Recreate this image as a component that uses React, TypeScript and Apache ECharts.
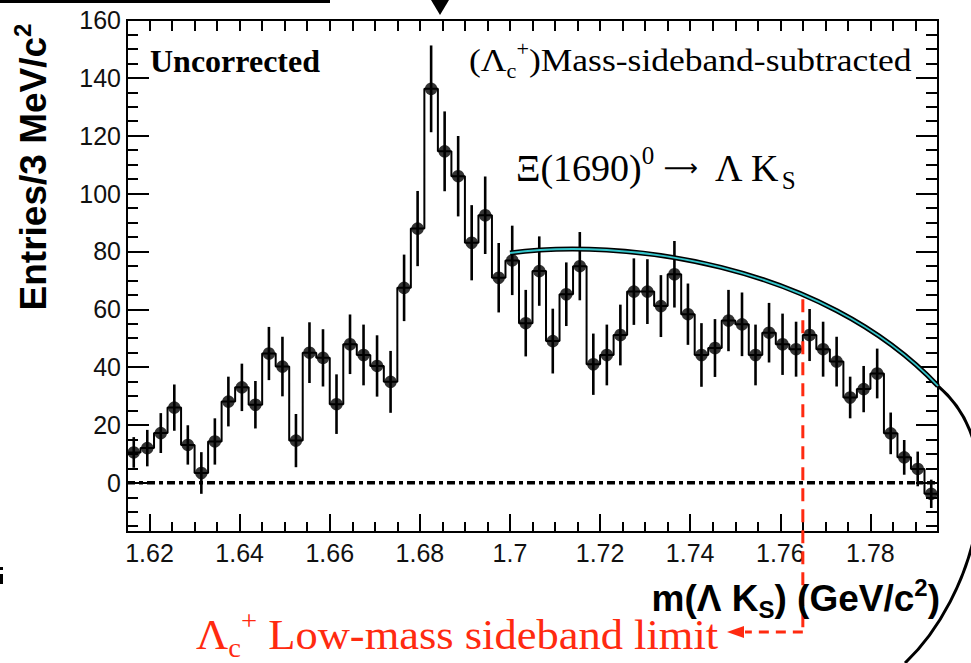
import React, { useEffect, useRef } from "react";
import * as echarts from "echarts";

// ---- data ----
const BIN_LOW = 1.615;
const BIN_WIDTH = 0.003;
const X_MIN = 1.615;
const X_MAX = 1.795;
const Y_MIN = -17;
const Y_MAX = 160;

const counts = [
  10.5, 12, 17.2, 26, 13.1, 3.4, 14.3, 28.1, 33, 27,
  44.7, 40.2, 14.6, 45, 43.2, 27.2, 47.9, 44.2, 40.4, 34.9,
  67.4, 87.9, 136.2, 114.6, 106, 83, 92.5, 70.9, 76.9, 55.2,
  73.2, 49, 65.2, 74.9, 41, 44.2, 51.1, 66.1, 66.1, 61.1,
  72.1, 58.3, 44.2, 46.6, 56.1, 54.8, 44.2, 51.9, 47.9, 46.2,
  51.1, 46.2, 41.9, 29.5, 32.4, 37.8, 17.1, 8.8, 4.8, -3.8,
];
const errors = [
  5.3, 6.3, 6.9, 8, 6.8, 7.2, 8, 8.6, 8.2, 8.2,
  9.2, 10.3, 9.2, 10.5, 9.9, 10.3, 10.3, 10.5, 10.6, 10.7,
  11.5, 13, 15, 13.8, 13.9, 13, 13.4, 12, 12, 11.5,
  12, 11.2, 11, 11.8, 10.6, 10.5, 10.5, 11.5, 11.2, 10.7,
  11.5, 10.6, 11, 10, 10.6, 11, 10.5, 10.3, 10.6, 9.5,
  9, 9.5, 8.6, 7.2, 8, 8.6, 7.2, 6, 6, 4.9,
];
const xMajorTicks = [1.62, 1.64, 1.66, 1.68, 1.7, 1.72, 1.74, 1.76, 1.78];
const xMinorTicks = [
  1.625, 1.63, 1.635, 1.645, 1.65, 1.655, 1.665, 1.67, 1.675, 1.685, 1.69, 1.695,
  1.705, 1.71, 1.715, 1.725, 1.73, 1.735, 1.745, 1.75, 1.755, 1.765, 1.77, 1.775,
  1.785, 1.79,
];
const yMajorTicks = [0, 20, 40, 60, 80, 100, 120, 140, 160];
const yMinorTicks = [
  -15, -10, -5, 5, 10, 15, 25, 30, 35, 45, 50, 55, 65, 70, 75, 85, 90, 95,
  105, 110, 115, 125, 130, 135, 145, 150, 155,
];
const zeroLine = [
  [X_MIN, 0],
  [X_MAX, 0],
];
const sidebandLimit = 1.765;
const sidebandLineTop = 63.5;

const SERIF = '"Liberation Serif", "Times New Roman", Times, serif';
const SANS = '"Liberation Sans", Arial, Helvetica, sans-serif';
const RED = "#ff2a10";

echarts.graphic.registerShape(
  "ellipseTop",
  echarts.graphic.extendPath("M510 253 C620 238 820 262 938 386", {})
);
echarts.graphic.registerShape(
  "ellipseRight",
  echarts.graphic.extendPath("M938 386 C1016 452 974 598 905 663", {})
);

function fmtX(v: number) {
  return String(parseFloat(Number(v).toFixed(3)));
}

export default function App() {
  const ref = useRef<HTMLDivElement>(null);

  useEffect(() => {
    const chart = echarts.init(ref.current!, null, { renderer: "svg" });

    const stepData: number[][] = [];
    counts.forEach((v, i) => {
      stepData.push([BIN_LOW + BIN_WIDTH * i, v]);
      stepData.push([BIN_LOW + BIN_WIDTH * (i + 1), v]);
    });
    const centers = counts.map((_, i) => BIN_LOW + BIN_WIDTH * (i + 0.5));
    const pointData = counts.map((v, i) => [centers[i], v]);
    const errData = counts.map((v, i) => [centers[i], v - errors[i], v + errors[i]]);

    const tickStyle = { color: "#000", width: 2 };
    const baseX = {
      type: "value" as const,
      min: X_MIN,
      max: X_MAX,
      gridIndex: 0,
      axisLine: { show: false, onZero: false },
      splitLine: { show: false },
    };
    const baseY = {
      type: "value" as const,
      min: Y_MIN,
      max: Y_MAX,
      gridIndex: 0,
      axisLine: { show: false, onZero: false },
      splitLine: { show: false },
    };

    const option: any = {
      animation: false,
      backgroundColor: "#fff",
      grid: {
        left: 127,
        top: 20,
        right: 33,
        bottom: 131,
        show: true,
        borderColor: "#000",
        borderWidth: 2,
        backgroundColor: "transparent",
      },
      xAxis: [
        {
          ...baseX,
          position: "bottom",
          axisTick: { customValues: xMajorTicks, inside: true, length: 18, lineStyle: tickStyle },
          axisLabel: {
            customValues: xMajorTicks,
            formatter: fmtX,
            fontFamily: SANS,
            fontSize: 25,
            color: "#111",
            margin: 8,
          },
        },
        {
          ...baseX,
          position: "bottom",
          axisTick: { customValues: xMinorTicks, inside: true, length: 10, lineStyle: tickStyle },
          axisLabel: { show: false },
        },
        {
          ...baseX,
          position: "top",
          axisTick: {
            customValues: [...xMajorTicks, ...xMinorTicks],
            inside: true,
            length: 11,
            lineStyle: tickStyle,
          },
          axisLabel: { show: false },
        },
      ],
      yAxis: [
        {
          ...baseY,
          position: "left",
          axisTick: { customValues: yMajorTicks, inside: true, length: 22, lineStyle: tickStyle },
          axisLabel: {
            customValues: yMajorTicks,
            fontFamily: SANS,
            fontSize: 25,
            color: "#111",
            margin: 6,
          },
        },
        {
          ...baseY,
          position: "left",
          axisTick: { customValues: yMinorTicks, inside: true, length: 11, lineStyle: tickStyle },
          axisLabel: { show: false },
        },
        {
          ...baseY,
          position: "right",
          axisTick: { customValues: yMajorTicks, inside: true, length: 22, lineStyle: tickStyle },
          axisLabel: { show: false },
        },
        {
          ...baseY,
          position: "right",
          axisTick: { customValues: yMinorTicks, inside: true, length: 12, lineStyle: tickStyle },
          axisLabel: { show: false },
        },
      ],
      series: [
        {
          type: "line",
          name: "zero",
          xAxisIndex: 0,
          yAxisIndex: 0,
          data: zeroLine,
          symbol: "none",
          showSymbol: false,
          silent: true,
          lineStyle: { color: "#000", width: 3.5, type: [8, 4, 4, 4] },
          z: 2,
        },
        {
          type: "line",
          name: "histogram",
          xAxisIndex: 0,
          yAxisIndex: 0,
          data: stepData,
          showSymbol: false,
          symbol: "none",
          lineStyle: { color: "#000", width: 2 },
          silent: true,
          z: 3,
        },
        {
          type: "custom",
          name: "errors",
          xAxisIndex: 0,
          yAxisIndex: 0,
          data: errData,
          encode: { x: 0, y: [1, 2] },
          z: 4,
          renderItem: (params: any, api: any) => {
            const x = api.value(0);
            const p1 = api.coord([x, api.value(1)]);
            const p2 = api.coord([x, api.value(2)]);
            return {
              type: "line",
              shape: { x1: p1[0], y1: p1[1], x2: p2[0], y2: p2[1] },
              style: { stroke: "#000", lineWidth: 2.6 },
            };
          },
        },
        {
          type: "scatter",
          name: "points",
          xAxisIndex: 0,
          yAxisIndex: 0,
          data: pointData,
          symbol: "circle",
          symbolSize: 12.5,
          itemStyle: { color: "#000" },
          z: 5,
        },
      ],
    };

    chart.setOption(option);

    const pt = chart.convertToPixel({ seriesIndex: 1 }, [sidebandLimit, sidebandLineTop]) as number[];
    const rx = pt[0];
    const ry = pt[1];

    const txt = (extra: any) => ({ type: "text", z: 20, ...extra });

    chart.setOption({
      graphic: [
        { type: "rect", shape: { x: 0, y: 0, width: 330, height: 3 }, style: { fill: "#000" } },
        { type: "polygon", shape: { points: [[431, 0], [449, 0], [440, 15]] }, style: { fill: "#000" } },
        { type: "rect", shape: { x: 0, y: 574, width: 3, height: 10 }, style: { fill: "#000" } },
        { type: "rect", shape: { x: 0, y: 567, width: 3, height: 3 }, style: { fill: "#000" } },
        { type: "ellipseTop", z: 15, style: { stroke: "#000", lineWidth: 5, fill: null } },
        { type: "ellipseTop", z: 16, style: { stroke: "#35c6cc", lineWidth: 1.8, fill: null } },
        { type: "ellipseRight", z: 15, style: { stroke: "#000", lineWidth: 3, fill: null } },
        txt({
          x: 150,
          y: 61,
          style: {
            text: "Uncorrected",
            font: `bold 32px ${SERIF}`,
            fill: "#000",
            textAlign: "left",
            align: "left",
            textVerticalAlign: "middle",
            verticalAlign: "middle",
          },
        }),
        txt({
          x: 469,
          y: 60,
          scaleX: 1.11,
          style: {
            text: "{n|(Λ}{sub|c}{sup|+}{n|)Mass-sideband-subtracted}",
            fill: "#000",
            textAlign: "left",
            align: "left",
            textVerticalAlign: "middle",
            verticalAlign: "middle",
            rich: {
              n: { fontFamily: SERIF, fontSize: 32, lineHeight: 42, fill: "#000" },
              sub: { fontFamily: SERIF, fontSize: 20, lineHeight: 21, verticalAlign: "bottom", fill: "#000" },
              sup: { fontFamily: SERIF, fontSize: 20, lineHeight: 27, verticalAlign: "top", fill: "#000" },
            },
          },
        }),
        txt({
          x: 516,
          y: 168,
          style: {
            text: "{n|Ξ(1690)}{sup|0}{n| }{arr|⟶}{n|  Λ K}{sub|S}",
            fill: "#000",
            textAlign: "left",
            align: "left",
            textVerticalAlign: "middle",
            verticalAlign: "middle",
            rich: {
              n: { fontFamily: SERIF, fontSize: 38, lineHeight: 50, fill: "#000" },
              arr: { fontFamily: '"DejaVu Sans", sans-serif', fontSize: 24, lineHeight: 50, fill: "#000" },
              sub: { fontFamily: SERIF, fontSize: 25, lineHeight: 26, verticalAlign: "bottom", fill: "#000" },
              sup: { fontFamily: SERIF, fontSize: 25, lineHeight: 32, verticalAlign: "top", fill: "#000" },
            },
          },
        }),
        txt({
          x: 33,
          y: 167,
          rotation: Math.PI / 2,
          style: {
            text: "{b|Entries/3 MeV/c}{sup|2}",
            fill: "#000",
            textAlign: "center",
            align: "center",
            textVerticalAlign: "middle",
            verticalAlign: "middle",
            rich: {
              b: { fontFamily: SANS, fontWeight: "bold", fontSize: 37, lineHeight: 46, fill: "#000" },
              sup: { fontFamily: SANS, fontWeight: "bold", fontSize: 24, lineHeight: 30, verticalAlign: "top", fill: "#000" },
            },
          },
        }),
        txt({
          x: 940,
          y: 598,
          style: {
            text: "{b|m(Λ K}{sub|S}{b|) (GeV/c}{sup|2}{b|)}",
            fill: "#000",
            textAlign: "right",
            align: "right",
            textVerticalAlign: "middle",
            verticalAlign: "middle",
            rich: {
              b: { fontFamily: SANS, fontWeight: "bold", fontSize: 37, lineHeight: 46, fill: "#000" },
              sub: { fontFamily: SANS, fontWeight: "bold", fontSize: 24, lineHeight: 24, verticalAlign: "bottom", fill: "#000" },
              sup: { fontFamily: SANS, fontWeight: "bold", fontSize: 24, lineHeight: 30, verticalAlign: "top", fill: "#000" },
            },
          },
        }),
        txt({
          x: 196,
          y: 634,
          scaleX: 1.06,
          style: {
            text: "{n|Λ}{sub|c}{sup|+}{n| Low-mass sideband limit}",
            fill: RED,
            textAlign: "left",
            align: "left",
            textVerticalAlign: "middle",
            verticalAlign: "middle",
            rich: {
              n: { fontFamily: SERIF, fontSize: 42, lineHeight: 54, fill: RED },
              sub: { fontFamily: SERIF, fontSize: 27, lineHeight: 28, verticalAlign: "bottom", fill: RED },
              sup: { fontFamily: SERIF, fontSize: 27, lineHeight: 35, verticalAlign: "top", fill: RED },
            },
          },
        }),
        {
          type: "line",
          z: 18,
          shape: { x1: rx, y1: ry, x2: rx, y2: 632 },
          style: { stroke: RED, lineWidth: 3, lineDash: [13, 8] },
        },
        {
          type: "line",
          z: 18,
          shape: { x1: rx, y1: 632, x2: 745, y2: 632 },
          style: { stroke: RED, lineWidth: 3, lineDash: [10, 7] },
        },
        {
          type: "polygon",
          z: 18,
          shape: { points: [[727, 632], [744, 626], [744, 638]] },
          style: { fill: RED },
        },
      ],
    });

    return () => chart.dispose();
  }, []);

  return (
    <div
      ref={ref}
      style={{ position: "fixed", left: 0, top: 0, width: 971, height: 663 }}
    />
  );
}
